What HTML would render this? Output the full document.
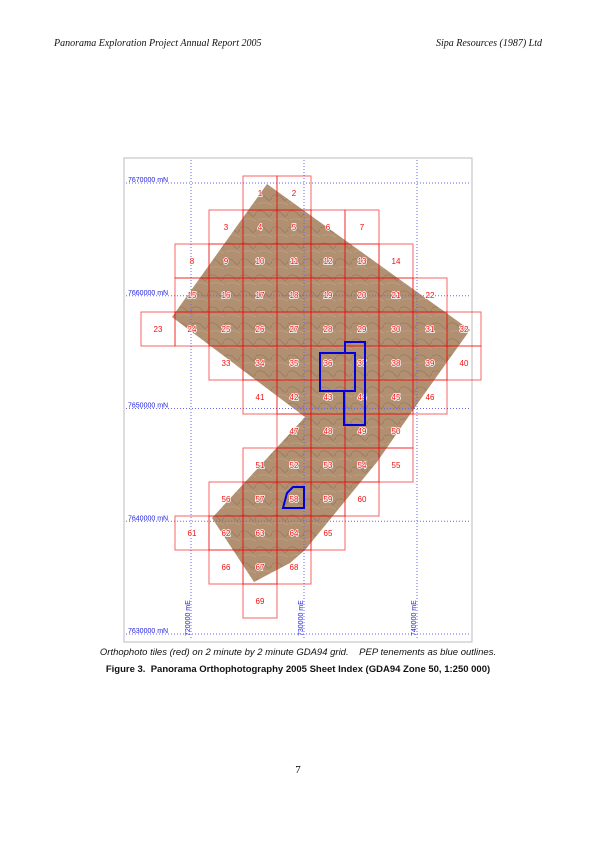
<!DOCTYPE html>
<html><head><meta charset="utf-8"><style>
body{margin:0;width:596px;height:842px;background:#fff;position:relative;overflow:hidden;font-family:"Liberation Sans",sans-serif}
svg text{font-family:"Liberation Sans",sans-serif}
.hdr{position:absolute;top:38px;font-family:"Liberation Serif",serif;font-style:italic;font-size:10px;color:#111}
</style></head><body>
<div class="hdr" style="left:54px">Panorama Exploration Project Annual Report 2005</div>
<div class="hdr" style="right:54px">Sipa Resources (1987) Ltd</div>
<svg id="map" width="596" height="842" style="position:absolute;left:0;top:0">
<defs>
<pattern id="tex" width="16" height="16" patternUnits="userSpaceOnUse">
<rect width="16" height="16" fill="#b09070"/>
<path d="M0 4 Q6 1 10 6 T16 5" stroke="#9a7a60" stroke-width="0.8" fill="none"/>
<path d="M2 12 Q8 9 16 13" stroke="#c0a084" stroke-width="0.8" fill="none"/>
</pattern>
</defs>
<rect x="124" y="158" width="348" height="484" fill="none" stroke="#bbb" stroke-width="1"/>
<polygon points="267,184 470,330 420,400 377,462 305,550 290,563 254,582 212,518 305,417 172,317" fill="url(#tex)"/>
<g id="grid"></g><g id="tiles"></g>
<g fill="none" stroke="#0000dd" stroke-width="2">
<rect x="320" y="353" width="35" height="38"/>
<polyline points="344,391 344,425 365,425 365,342 345,342 345,353"/>
<polygon points="283,508 287,493 293,487 304,487 304,508"/>
</g>
</svg>
<div style="position:absolute;top:647px;left:0;width:596px;text-align:center;font-style:italic;font-size:9.5px;color:#111">Orthophoto tiles (red) on 2 minute by 2 minute GDA94 grid. &nbsp;&nbsp; PEP tenements as blue outlines.</div>
<div style="position:absolute;top:664px;left:0;width:596px;text-align:center;font-weight:bold;font-size:9.5px;color:#111">Figure 3.&nbsp; Panorama Orthophotography 2005 Sheet Index (GDA94 Zone 50, 1:250 000)</div>
<div style="position:absolute;top:764px;left:0;width:596px;text-align:center;font-family:'Liberation Serif',serif;font-size:11px">7</div>
<script>
const rowStartCols=[3,2,1,1,0,2,3,4,3,2,1,2,3];
const rowCounts=[2,5,7,8,10,8,6,4,5,5,5,3,1];
const northings=[7670000,7660000,7650000,7640000,7630000];
const eastings=[720000,730000,740000];
const NS="http://www.w3.org/2000/svg";
const x0=141,y0=176,cell=34;
function yN(n){return 183+(7670000-n)/10000*112.75;}
function xE(e){return 191+(e-720000)/10000*113;}
const grid=document.getElementById('grid'),tiles=document.getElementById('tiles');
northings.forEach(n=>{
 const l=document.createElementNS(NS,'line');
 
 
 l.setAttribute('x1',126);l.setAttribute('x2',470);l.setAttribute('y1',yN(n));l.setAttribute('y2',yN(n));
 l.setAttribute('stroke','#6666ee');l.setAttribute('stroke-dasharray','1,2');grid.appendChild(l);
 const t=document.createElementNS(NS,'text');
 
 
 t.setAttribute('x',128);t.setAttribute('y',yN(n)-1);t.setAttribute('font-size','7');t.setAttribute('fill','#2222dd');
 t.textContent=n+' mN';grid.appendChild(t);
});
eastings.forEach(e=>{
 const l=document.createElementNS(NS,'line');
 
 
 l.setAttribute('x1',xE(e));l.setAttribute('x2',xE(e));l.setAttribute('y1',160);l.setAttribute('y2',640);
 l.setAttribute('stroke','#6666ee');l.setAttribute('stroke-dasharray','1,2');grid.appendChild(l);
 const t=document.createElementNS(NS,'text');
 
 
 t.setAttribute('transform','translate('+(xE(e)-1)+',636) rotate(-90)');t.setAttribute('font-size','7');t.setAttribute('fill','#2222dd');
 t.textContent=e+' mE';grid.appendChild(t);
});
let num=1;
rowCounts.forEach((cnt,r)=>{
 for(let i=0;i<cnt;i++){
  const c=rowStartCols[r]+i,x=x0+c*cell,y=y0+r*cell;
  const rc=document.createElementNS(NS,'rect');
  
  
  rc.setAttribute('x',x);rc.setAttribute('y',y);rc.setAttribute('width',cell);rc.setAttribute('height',cell);
  rc.setAttribute('fill','none');rc.setAttribute('stroke','rgba(240,0,0,0.6)');rc.setAttribute('stroke-width','1');
  tiles.appendChild(rc);
  const t=document.createElementNS(NS,'text');
  
  
  t.setAttribute('x',x+cell/2);t.setAttribute('y',y+cell/2+3);t.setAttribute('text-anchor','middle');
  t.setAttribute('font-size','8');t.setAttribute('fill','#ee1111');t.setAttribute('stroke','#fff');t.setAttribute('stroke-width','1.5');
  t.setAttribute('paint-order','stroke');
  t.textContent=num;tiles.appendChild(t);
  num++;
 }
});
</script>
</body></html>
